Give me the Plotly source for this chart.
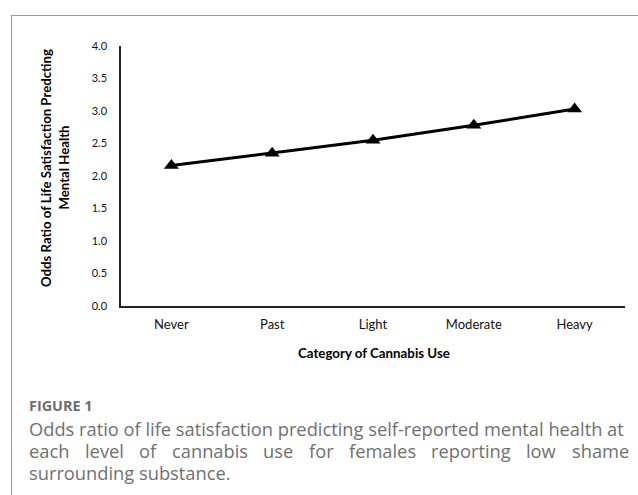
import plotly.graph_objects as go

categories = ["Never", "Past", "Light", "Moderate", "Heavy"]
odds_ratio = [2.16, 2.35, 2.55, 2.78, 3.03]
y_ticks = [0.0, 0.5, 1.0, 1.5, 2.0, 2.5, 3.0, 3.5, 4.0]

x_title = "Category of Cannabis Use"
y_title_lines = ["Odds Ratio of Life Satisfaction Predcting", "Mental Health"]
fig_label = "FIGURE 1"
caption_line1 = "Odds ratio of life satisfaction predicting self-reported mental health at"
caption_line2_words = ["each", "level", "of", "cannabis", "use", "for", "females", "reporting", "low", "shame"]
caption_line3 = "surrounding substance."

W, H = 638, 495
L, R, T, B = 121, 13, 46, 189
PW, PH = W - L - R, H - T - B

def px(x):
    return (x - L) / PW

def py(y):
    return (H - B - y) / PH

fig = go.Figure()
fig.add_trace(go.Scatter(
    x=categories, y=odds_ratio, mode="lines+markers",
    line=dict(color="black", width=3),
    marker=dict(symbol="triangle-up", size=13, color="black"),
    showlegend=False, cliponaxis=False,
))

chart_font = "Lato, Carlito, Calibri, sans-serif"
cap_font = "Open Sans, sans-serif"
cap_size = 18.3

# approximate Open Sans advance widths (units per 2048 em) for justifying the caption line
OS_W = {' ': 532, 'a': 1139, 'b': 1255, 'c': 975, 'd': 1255, 'e': 1149, 'f': 694, 'g': 1122,
        'h': 1257, 'i': 518, 'l': 518, 'm': 1905, 'n': 1257, 'o': 1237, 'p': 1255, 'r': 836,
        's': 977, 't': 723, 'u': 1257, 'v': 1026, 'w': 1593, 'y': 1026}

def text_w(s, size):
    return sum(OS_W.get(ch, 1150) for ch in s) / 2048 * size

cap_x0, cap_x1 = 28, 628

annotations = []
annotations.append(dict(text="<b>%s</b>" % x_title, x=px(373.5), y=py(353), xref="paper", yref="paper",
                        showarrow=False, xanchor="center", yanchor="middle",
                        font=dict(family=chart_font, size=13.3, color="black")))
for line, xc in zip(y_title_lines, [46, 63.5]):
    annotations.append(dict(text="<b>%s</b>" % line, x=px(xc), y=py(168), xref="paper", yref="paper",
                            showarrow=False, textangle=-90, xanchor="center", yanchor="middle",
                            font=dict(family=chart_font, size=13.2, color="black")))
annotations.append(dict(text="<b>%s</b>" % fig_label, x=px(cap_x0 - 1), y=py(405), xref="paper", yref="paper",
                        showarrow=False, xanchor="left", yanchor="middle",
                        font=dict(family=cap_font, size=14.4, color="#6e6e6e")))
annotations.append(dict(text=caption_line1, x=px(cap_x0 - 1), y=py(428), xref="paper", yref="paper",
                        showarrow=False, xanchor="left", yanchor="middle",
                        font=dict(family=cap_font, size=cap_size, color="#707070")))
widths = [text_w(w, cap_size) for w in caption_line2_words]
gap = (cap_x1 - cap_x0 - sum(widths)) / (len(widths) - 1)
xpos = cap_x0
for w, ww in zip(caption_line2_words, widths):
    annotations.append(dict(text=w, x=px(xpos - 1), y=py(450), xref="paper", yref="paper",
                            showarrow=False, xanchor="left", yanchor="middle",
                            font=dict(family=cap_font, size=cap_size, color="#707070")))
    xpos += ww + gap
annotations.append(dict(text=caption_line3, x=px(cap_x0 - 1), y=py(472), xref="paper", yref="paper",
                        showarrow=False, xanchor="left", yanchor="middle",
                        font=dict(family=cap_font, size=cap_size, color="#707070")))

shapes = [
    dict(type="line", xref="paper", yref="paper", x0=px(11), x1=px(640), y0=py(15.5), y1=py(15.5),
         line=dict(color="#9a9a9a", width=1)),
    dict(type="line", xref="paper", yref="paper", x0=px(11.5), x1=px(11.5), y0=py(15), y1=py(500),
         line=dict(color="#9a9a9a", width=1)),
]

fig.update_layout(
    width=W, height=H,
    margin=dict(l=L, r=R, t=T, b=B, pad=0),
    paper_bgcolor="white", plot_bgcolor="white",
    font=dict(family=chart_font, color="black"),
    annotations=annotations, shapes=shapes,
    xaxis=dict(type="category", range=[-0.5, 4.5], showgrid=False, zeroline=False,
               showline=True, linecolor="#222", linewidth=1.5, ticks="",
               tickfont=dict(family=chart_font, size=13, color="#111"), ticklabelstandoff=6),
    yaxis=dict(range=[0, 4], tickvals=y_ticks, tickformat=".1f", showgrid=False, zeroline=False,
               showline=True, linecolor="#222", linewidth=1.5, ticks="",
               tickfont=dict(family=chart_font, size=11, color="#111"), ticklabelstandoff=10),
)

fig.write_html("out.html", config={"displayModeBar": False},
               post_script="document.body.style.margin='0px';document.body.style.overflow='hidden';")
